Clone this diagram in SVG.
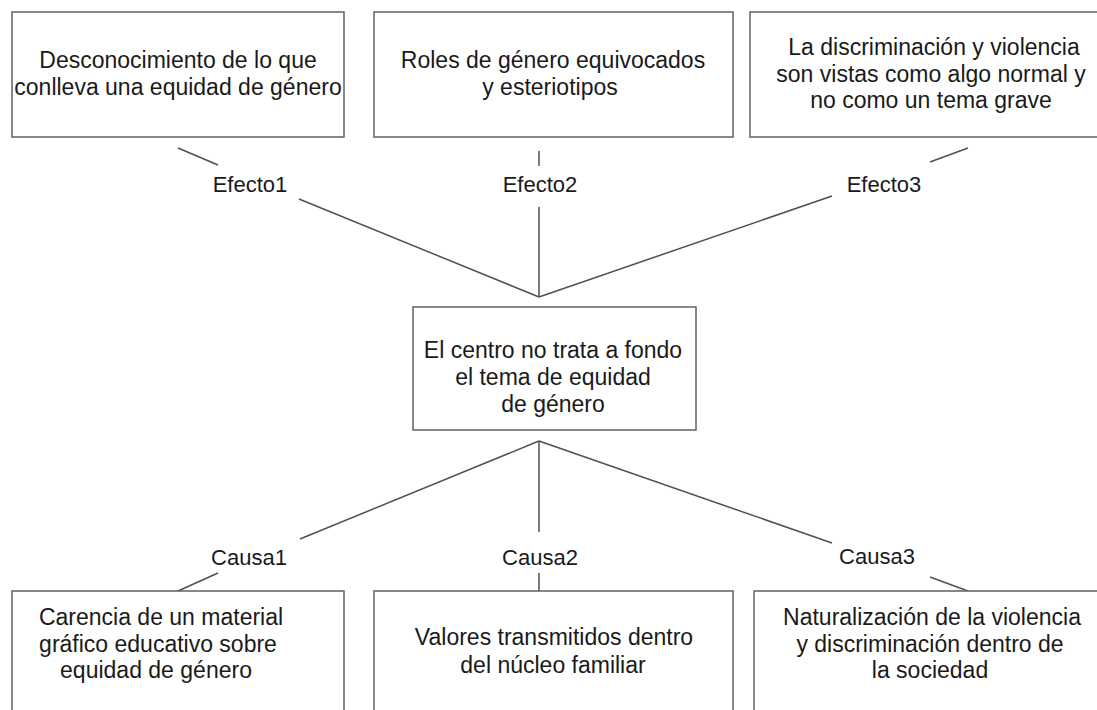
<svg xmlns="http://www.w3.org/2000/svg" width="1097" height="710" viewBox="0 0 1097 710">
<style>
.box{fill:#fff;stroke:#606060;stroke-width:1.5}
.t{font-family:"Liberation Sans",Arial,sans-serif;font-size:23px;fill:#1a1a1a;text-anchor:middle}
.l{font-family:"Liberation Sans",Arial,sans-serif;font-size:22px;fill:#1a1a1a;text-anchor:middle}
.c{stroke:#505050;stroke-width:1.5;fill:none}
</style>
<rect width="1097" height="710" fill="#fff"/>
<g id="connectors">
<line class="c" x1="178" y1="148" x2="218" y2="165"/>
<line class="c" x1="299" y1="199" x2="539" y2="297"/>
<line class="c" x1="539" y1="151" x2="539" y2="166"/>
<line class="c" x1="539" y1="207" x2="539" y2="297"/>
<line class="c" x1="968" y1="148" x2="930" y2="162"/>
<line class="c" x1="832" y1="196" x2="539" y2="297"/>
<line class="c" x1="539" y1="441" x2="300" y2="539"/>
<line class="c" x1="218" y1="573" x2="178" y2="591"/>
<line class="c" x1="539" y1="441" x2="539" y2="532"/>
<line class="c" x1="539" y1="573" x2="539" y2="591"/>
<line class="c" x1="539" y1="441" x2="832" y2="543"/>
<line class="c" x1="930" y1="577" x2="968" y2="591"/>
<text class="l" x="250" y="192">Efecto1</text>
<text class="l" x="540" y="192">Efecto2</text>
<text class="l" x="884" y="192">Efecto3</text>
<text class="l" x="249" y="565">Causa1</text>
<text class="l" x="540" y="565">Causa2</text>
<text class="l" x="877" y="564">Causa3</text>
</g>
<g id="efecto1-box">
<rect class="box" x="12" y="12" width="332" height="125"/>
<text class="t" x="178" y="68">Desconocimiento de lo que</text>
<text class="t" x="178" y="95">conlleva una equidad de género</text>
</g>
<g id="efecto2-box">
<rect class="box" x="374" y="12" width="359" height="125"/>
<text class="t" x="553" y="68">Roles de género equivocados</text>
<text class="t" x="550" y="95">y esteriotipos</text>
</g>
<g id="efecto3-box">
<rect class="box" x="750" y="12" width="370" height="125"/>
<text class="t" x="934" y="55">La discriminación y violencia</text>
<text class="t" x="931" y="82">son vistas como algo normal y</text>
<text class="t" x="931" y="108">no como un tema grave</text>
</g>
<g id="problema">
<rect class="box" x="413" y="307" width="283" height="123"/>
<text class="t" x="553" y="358">El centro no trata a fondo</text>
<text class="t" x="553" y="385">el tema de equidad</text>
<text class="t" x="553" y="412">de género</text>
</g>
<g id="causa1-box">
<rect class="box" x="12" y="591" width="332" height="130"/>
<text class="t" x="161" y="625">Carencia de un material</text>
<text class="t" x="158" y="652">gráfico educativo sobre</text>
<text class="t" x="156" y="678">equidad de género</text>
</g>
<g id="causa2-box">
<rect class="box" x="374" y="591" width="359" height="130"/>
<text class="t" x="554" y="645">Valores transmitidos dentro</text>
<text class="t" x="553" y="673">del núcleo familiar</text>
</g>
<g id="causa3-box">
<rect class="box" x="754" y="591" width="370" height="130"/>
<text class="t" x="932" y="625">Naturalización de la violencia</text>
<text class="t" x="930" y="652">y discriminación dentro de</text>
<text class="t" x="930" y="678">la sociedad</text>
</g>
</svg>
